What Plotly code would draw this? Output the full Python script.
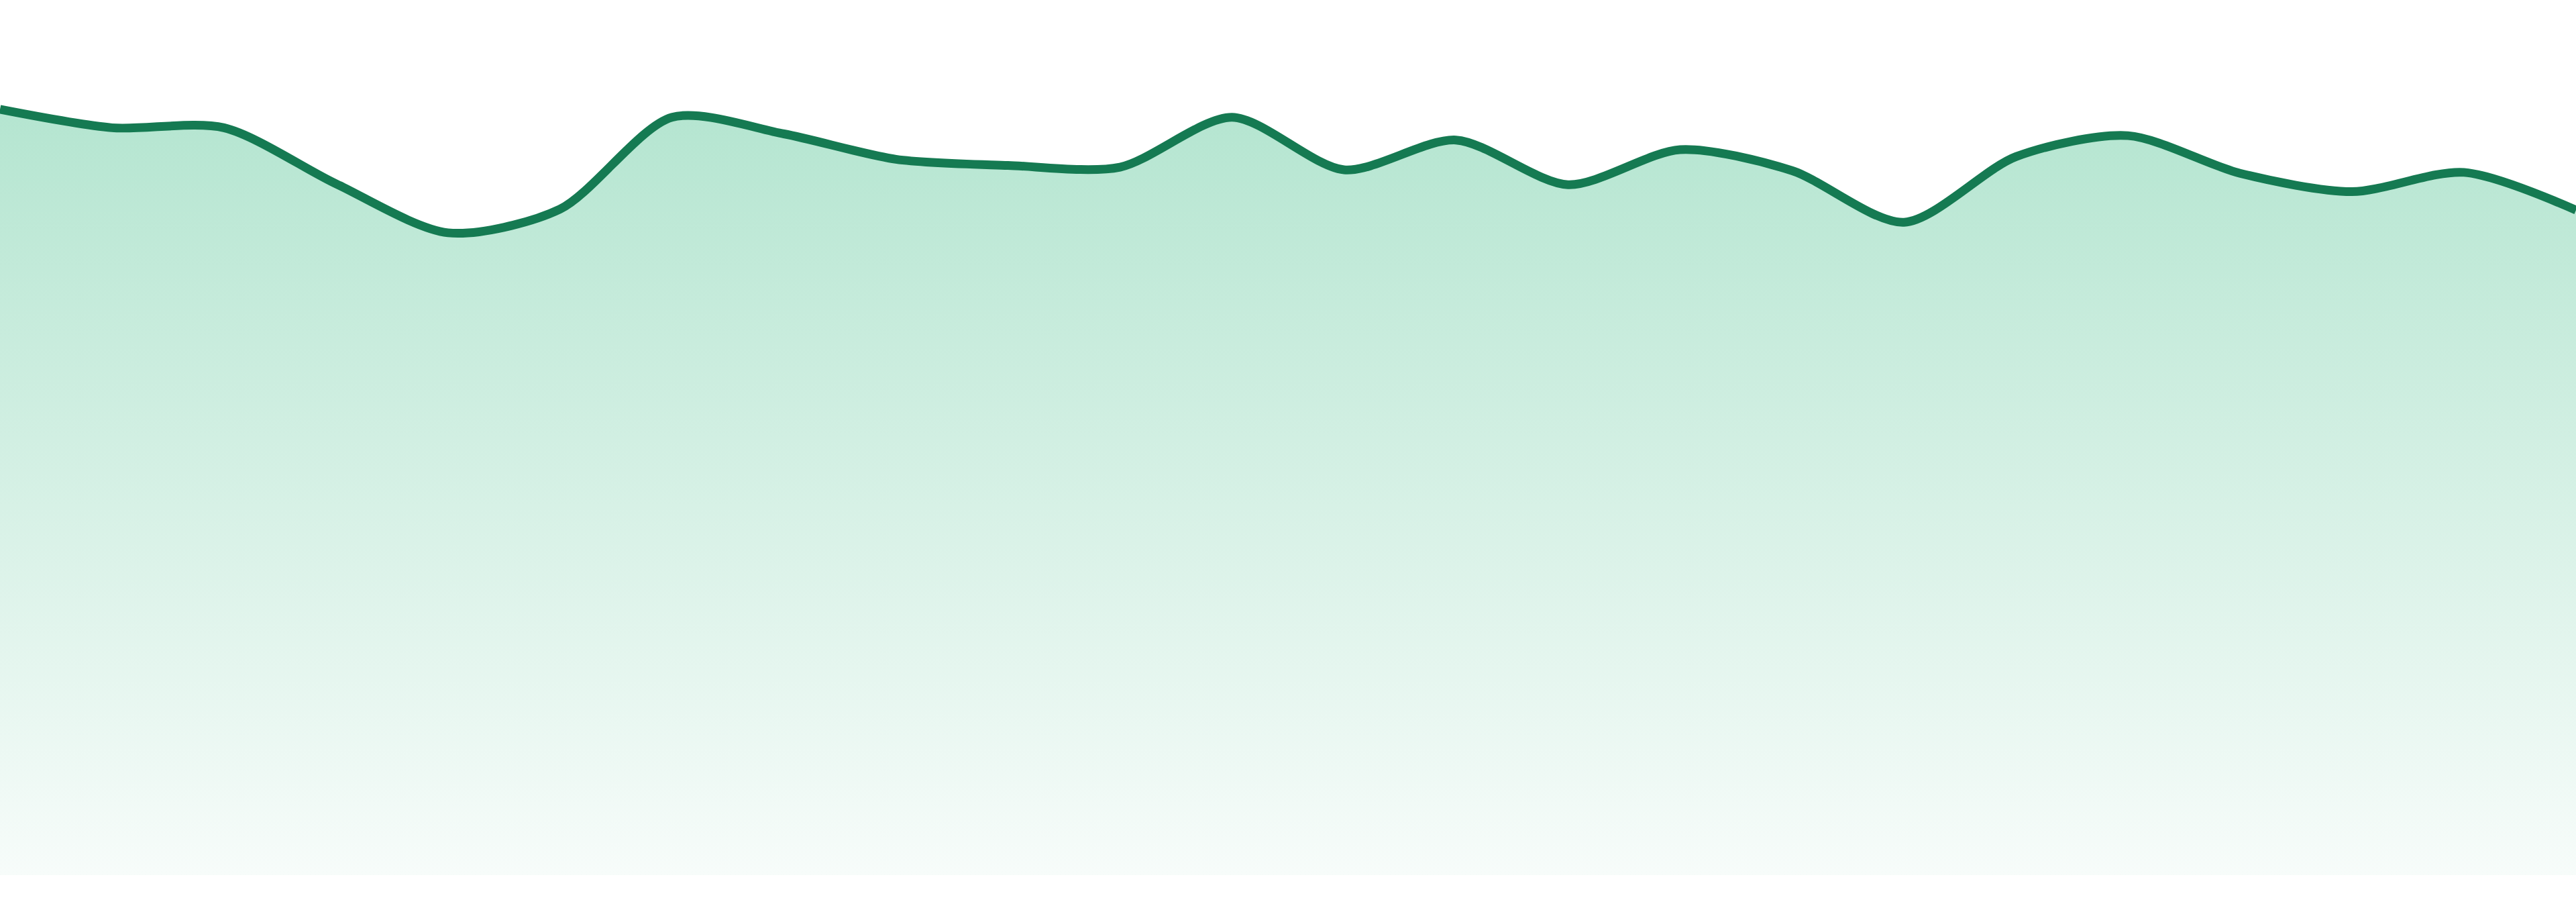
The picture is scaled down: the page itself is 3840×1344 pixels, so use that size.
import plotly.graph_objects as go

DAYS = list(range(1, 25))
VALUES = [
    87.5, 85.4, 85.4, 79.0, 73.4, 76.1, 86.6, 84.7,
    81.8, 81.1, 80.9, 86.6, 80.6, 84.0, 78.9, 82.9,
    80.5, 74.6, 82.1, 84.5, 80.2, 78.1, 80.3, 76.0,
]

LINE_COLOR = "#157a52"


def build_figure() -> go.Figure:
    fig = go.Figure(
        data=[
            go.Scatter(
                x=DAYS,
                y=VALUES,
                mode="lines",
                line={"color": LINE_COLOR, "width": 13, "shape": "spline", "smoothing": 0.8},
                fill="tozeroy",
                fillgradient={
                    "type": "vertical",
                    "start": 0,
                    "stop": 88,
                    "colorscale": [
                        [0.0, "rgba(247,252,250,1)"],
                        [1.0, "rgba(180,229,208,1)"],
                    ],
                },
                hoverinfo="skip",
                showlegend=False,
            )
        ],
        layout=go.Layout(
            width=3840,
            height=1344,
            margin={"l": 0, "r": 0, "t": 0, "b": 40},
            paper_bgcolor="white",
            plot_bgcolor="white",
            xaxis={"visible": False, "range": [DAYS[0], DAYS[-1]], "fixedrange": True},
            yaxis={"visible": False, "range": [0, 100], "fixedrange": True},
            showlegend=False,
        ),
    )
    return fig


if __name__ == "__main__":
    fig = build_figure()
    # drop the default page margin so the chart sits flush with the window
    fig.write_html(
        "out.html",
        config={"displayModeBar": False},
        post_script="document.body.style.margin = '0';",
    )
